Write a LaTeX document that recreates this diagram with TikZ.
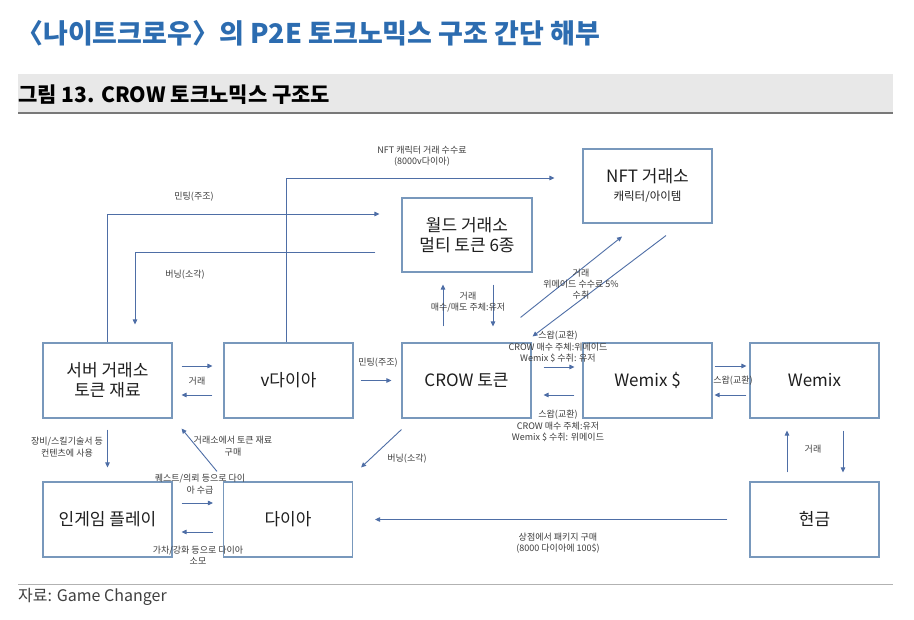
\documentclass[tikz,border=0pt]{standalone}
\usepackage{fontspec}
\setmainfont{Noto Sans CJK KR}
\newfontfamily\titlefont{Noto Sans CJK KR}
\usetikzlibrary{arrows.meta,calc}
\definecolor{boxc}{RGB}{120,152,188}
\definecolor{arrc}{RGB}{78,110,166}
\definecolor{txtc}{RGB}{30,30,30}
\definecolor{lblc}{RGB}{60,60,60}
\definecolor{titlec}{RGB}{44,108,176}
\definecolor{bandc}{RGB}{232,232,232}
\definecolor{bandl}{RGB}{120,120,120}
\tikzset{
  box/.style={draw=boxc, line width=1.1pt, minimum width=129pt, minimum height=75pt,
    inner sep=0pt, text=txtc, align=center, font=\fontsize{17}{20}\selectfont},
  arr/.style={draw=arrc, line width=0.9pt, -{Triangle[length=5pt,width=4.5pt]}},
  lbl/.style={text=lblc, align=center, inner sep=0pt, font=\fontsize{9}{11.3}\selectfont},
}
\begin{document}
\begin{tikzpicture}[x=1pt,y=-1pt]
\path[use as bounding box, fill=white] (0,0) rectangle (914,620);
% header
\node[anchor=west, inner sep=0pt, text=titlec, font=\titlefont\bfseries\fontsize{27}{30}\selectfont] (title) at (16,33) {〈나이트크로우〉의 P2E 토크노믹스 구조 간단 해부};
\fill[bandc] (18,74) rectangle (893,113);
\draw[bandl, line width=1.6pt] (18,113) -- (893,113);
\node[anchor=west, inner sep=0pt, text=black, font=\titlefont\bfseries\fontsize{21}{24}\selectfont] (fig) at (18,95) {그림 13. CROW 토크노믹스 구조도};
% footer
\draw[gray!60, line width=0.8pt] (18,584) -- (893,584);
\node[anchor=west, inner sep=0pt, text=txtc!85, font=\fontsize{16}{18}\selectfont] (src) at (18,597) {자료: Game Changer};
% boxes
\node[box] (srv) at (107.5,380.5) {서버 거래소\\토큰 재료};
\node[box] (vdia) at (288.5,380.5) {v다이아};
\node[box] (crow) at (466.5,380.5) {CROW 토큰};
\node[box] (wdol) at (647.5,380.5) {Wemix \$};
\node[box] (wemix) at (814.5,380.5) {Wemix};
\node[box] (game) at (107.5,519.5) {인게임 플레이};
\node[box] (dia) at (288,519.5) {다이아};
\node[box] (cash) at (814.5,519.5) {현금};
\node[box, minimum width=130pt, minimum height=74pt] (world) at (467,235) {월드 거래소\\멀티 토큰 6종};
\node[box, minimum height=74pt] (nft) at (647.5,186) {NFT 거래소\\[-2pt]{\fontsize{11.5}{13}\selectfont 캐릭터/아이템}};
% connectors
\draw[arr] ([xshift=9,yshift=14.5]srv.east) -- ([xshift=-11,yshift=14.5]vdia.west);
\draw[arr] ([xshift=-11,yshift=-14.5]vdia.west) -- ([xshift=9,yshift=-14.5]srv.east);
\draw[arr] ([xshift=7]vdia.east) -- ([xshift=-10]crow.west);
\draw[arr] ([xshift=12,yshift=13.5]crow.east) -- ([xshift=-8,yshift=13.5]wdol.west);
\draw[arr] ([xshift=-8,yshift=-14.5]wdol.west) -- ([xshift=12,yshift=-14.5]crow.east);
\draw[arr] ([xshift=2,yshift=14.5]wdol.east) -- ([xshift=-3,yshift=14.5]wemix.west);
\draw[arr] ([xshift=-3,yshift=-14.5]wemix.west) -- ([xshift=2,yshift=-14.5]wdol.east);
\draw[arr] ([xshift=-27.5,yshift=9]cash.north) -- ([xshift=-27.5,yshift=-12]wemix.south);
\draw[arr] ([xshift=28.5,yshift=-12]wemix.south) -- ([xshift=28.5,yshift=9]cash.north);
\draw[arr] ([xshift=-22]cash.west) -- ([xshift=22]dia.east);
\draw[arr] ([xshift=9,yshift=16.5]game.east) -- ([xshift=-10,yshift=16.5]dia.west);
\draw[arr] ([xshift=-10,yshift=-12.5]dia.west) -- ([xshift=9,yshift=-12.5]game.east);
\draw[arr] ([yshift=-11]srv.south) -- ([yshift=14]game.north);
\draw[arr] ([xshift=-71,yshift=10]dia.north) -- ([xshift=9,yshift=-10]srv.south east);
\draw[arr] ([yshift=-11]crow.south west) -- ([xshift=8,yshift=14]dia.north east);
\draw[arr] ([xshift=-24,yshift=16]crow.north -| world.south) -- ([xshift=-24,yshift=-12]world.south);
\draw[arr] ([xshift=26,yshift=-12]world.south) -- ([xshift=26,yshift=16]crow.north -| world.south);
\draw[arr] ([xshift=-11,yshift=25]crow.north east) -- ([xshift=-25.5,yshift=-13]nft.south);
\draw[arr] ([xshift=18.5,yshift=-12]nft.south) -- ([xshift=1,yshift=6]crow.north east);
\draw[arr] ([xshift=-2.5]vdia.north) |- ([xshift=-28,yshift=8]nft.west);
\draw[arr] (srv.north) |- ([xshift=-22,yshift=21]world.west);
\draw[arr] ([xshift=-26,yshift=-17]world.west) -| ([xshift=27.5,yshift=18]srv.north);
% labels
\node[lbl] (l1) at (197,381) {거래};
\node[lbl] (l2) at (378,363) {민팅(주조)};
\node[lbl] (l3) at (558,347) {스왑(교환)\\CROW 매수 주체:위메이드\\Wemix \$ 수취: 유저};
\node[lbl] (l4) at (558,426) {스왑(교환)\\CROW 매수 주체:유저\\Wemix \$ 수취: 위메이드};
\node[lbl] (l5) at (733,381) {스왑(교환)};
\node[lbl] (l6) at (813,449) {거래};
\node[lbl] (l7) at (558,543) {상점에서 패키지 구매\\(8000 다이아에 100\$)};
\node[lbl] (l8) at (200,484) {퀘스트/의뢰 등으로 다이\\아 수급};
\node[lbl] (l9) at (198,555) {가차/강화 등으로 다이아\\소모};
\node[lbl] (l10) at (67,447) {장비/스킬기술서 등\\컨텐츠에 사용};
\node[lbl] (l11) at (233,446) {거래소에서 토큰 재료\\구매};
\node[lbl] (l12) at (407,459) {버닝(소각)};
\node[lbl] (l13) at (422,156) {NFT 캐릭터 거래 수수료\\(8000v다이아)};
\node[lbl] (l14) at (194,197) {민팅(주조)};
\node[lbl] (l15) at (185,275) {버닝(소각)};
\node[lbl] (l16) at (468,302) {거래\\매수/매도 주체:유저};
\node[lbl] (l17) at (581,284) {거래\\위메이드 수수료 5\%\\수취};
\end{tikzpicture}
\end{document}
